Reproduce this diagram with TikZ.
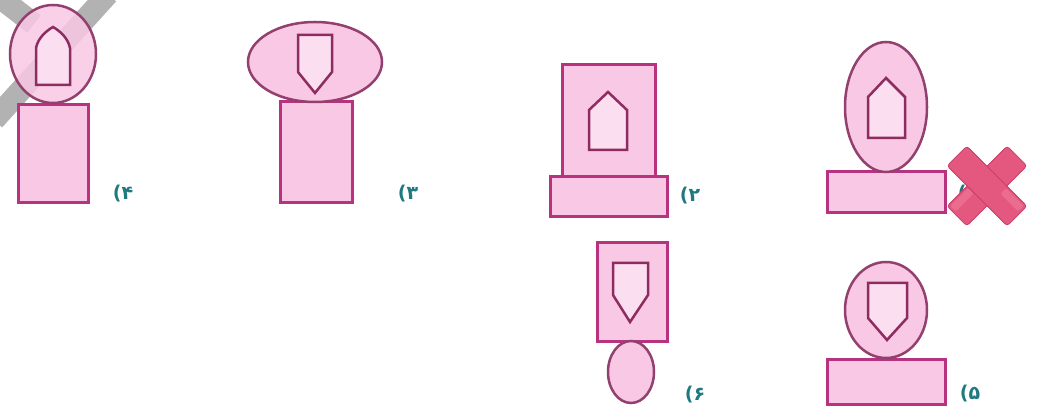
\documentclass[tikz,border=0pt]{standalone}
\usepackage{fontspec}
\newfontfamily\fafont{DejaVu Sans}
\definecolor{shfill}{HTML}{F8C8E4}
\definecolor{shdraw}{HTML}{B8337F}
\definecolor{eldraw}{HTML}{94406F}
\definecolor{indraw}{HTML}{8E2C62}
\definecolor{lbl}{HTML}{1F7A80}
\definecolor{xred}{HTML}{E4577F}
\definecolor{xdark}{HTML}{C53F68}
\definecolor{xlight}{HTML}{EE7A9A}
\begin{document}
\begin{tikzpicture}[x=1pt,y=-1pt,
 box/.style={draw=shdraw,fill=shfill,line width=3pt},
 oval/.style={draw=eldraw,fill=shfill,line width=2.5pt},
 innershape/.style={draw=indraw,fill=shfill!60!white,line width=2.5pt,line join=miter},
 lab/.style={text=lbl,font=\fafont\bfseries\fontsize{19}{22}\selectfont,inner sep=0pt},
 wm/.style={draw=gray!60,line width=22pt}]
\useasboundingbox (0,0) rectangle (1037,419);
\fill[white] (0,0) rectangle (1037,419);
% grey watermark strokes
\draw[wm] (108,-6) -- (-6,120);
\draw[wm] (-10,-10) -- (34,24);
% shape 4
\draw[box] (18,105) rectangle (88,203);
\draw[oval,fill opacity=0.85] (53,54) ellipse [x radius=43, y radius=49];
\draw[innershape] (36,85) -- (36,48) .. controls (38,38) and (46,31) .. (53,27) .. controls (60,31) and (68,38) .. (70,48) -- (70,85) -- cycle;
\node[lab] (l4) at (123,194) {(۴};
% shape 3
\draw[box] (280,102) rectangle (352,203);
\draw[oval] (315,62) ellipse [x radius=67, y radius=40];
\draw[innershape] (298,35) -- (332,35) -- (332,72) -- (315,93) -- (298,72) -- cycle;
\node[lab] (l3) at (408,194) {(۳};
% shape 2
\draw[box] (562,65) rectangle (655,177);
\draw[box] (550,177) rectangle (667,217);
\draw[innershape] (589,150) -- (589,110) -- (608,92) -- (627,110) -- (627,150) -- cycle;
\node[lab] (l2) at (690,196) {(۲};
% shape 1
\draw[box] (827,172) rectangle (945,213);
\draw[oval] (886,107) ellipse [x radius=41, y radius=65];
\draw[innershape] (868,138) -- (868,97) -- (886,78) -- (905,97) -- (905,138) -- cycle;
\node[lab] (l1) at (968,194) {(۱};
% red cross
\begin{scope}[shift={(987,186)}]
 \fill[xred,draw=xdark,line width=0.8pt,rotate=45,rounded corners=3pt] (-42.5,-14) rectangle (42.5,14);
 \fill[xred,draw=xdark,line width=0.8pt,rotate=-45,rounded corners=3pt] (-42.5,-14) rectangle (42.5,14);
 \fill[xred,rotate=45] (-13,-13.5) rectangle (13,13.5);
 \fill[xlight,opacity=0.6,rotate=45,rounded corners=2pt] (-40,-12) rectangle (-15,-4);
 \fill[xlight,opacity=0.6,rotate=-45,rounded corners=2pt] (15,-12) rectangle (40,-4);
\end{scope}
% shape 6
\draw[box] (597,243) rectangle (667,342);
\draw[innershape] (613,263) -- (648,263) -- (648,295) -- (630,322) -- (613,295) -- cycle;
\draw[oval] (631,372) ellipse [x radius=23, y radius=31];
\node[lab] (l6) at (695,395) {(۶};
% shape 5
\draw[box] (827,360) rectangle (945,405);
\draw[oval] (886,310) ellipse [x radius=41, y radius=48];
\draw[innershape] (868,283) -- (907,283) -- (907,318) -- (887,340) -- (868,318) -- cycle;
\node[lab] (l5) at (970,394) {(۵};
\end{tikzpicture}
\end{document}
